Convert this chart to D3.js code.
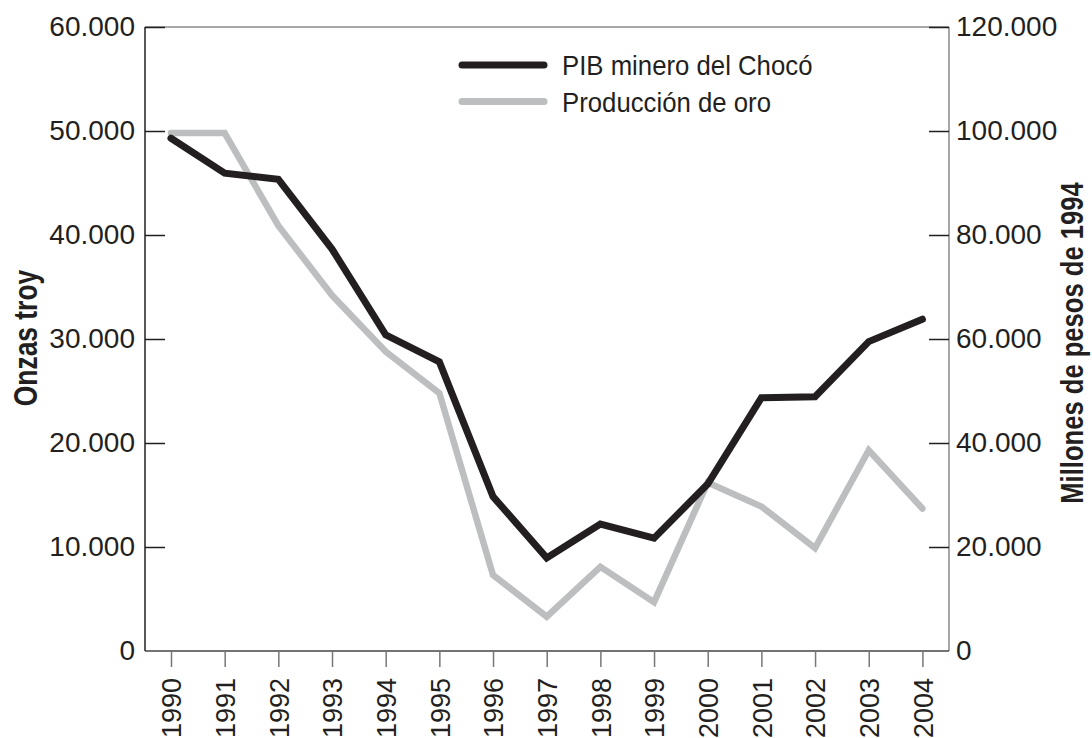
<!DOCTYPE html>
<html>
<head>
<meta charset="utf-8">
<script src="https://cdn.jsdelivr.net/npm/d3@7"></script>
<style>
  body { margin: 0; background: #fff; }
  svg { display: block; }
  .tick text { font-family: "Liberation Sans", Arial, sans-serif; font-size: 28px; fill: #231f20; }
</style>
</head>
<body>
<div id="chart"></div>
<script>
var years = [1990, 1991, 1992, 1993, 1994, 1995, 1996, 1997, 1998, 1999, 2000, 2001, 2002, 2003, 2004];
// PIB minero del Chocó, millones de pesos de 1994 (eje derecho)
var pibMinero = [98600, 91900, 90700, 77300, 60800, 55600, 29700, 17900, 24400, 21700, 32100, 48700, 48900, 59500, 63800];
// Producción de oro, onzas troy (eje izquierdo)
var produccionOro = [49800, 49800, 40900, 34200, 28800, 24800, 7300, 3300, 8100, 4700, 16200, 13900, 9900, 19300, 13700];
var leftTicks = [0, 10000, 20000, 30000, 40000, 50000, 60000];
var rightTicks = [0, 20000, 40000, 60000, 80000, 100000, 120000];
var seriesNames = ["PIB minero del Chocó", "Producción de oro"];

var width = 1092, height = 738;
var plot = {left: 145, right: 949, top: 27, bottom: 651};
var font = "'Liberation Sans', Arial, sans-serif";

var es = d3.formatLocale({decimal: ",", thousands: ".", grouping: [3], currency: ["$", ""]});
var fmt = es.format(",d");

var svg = d3.select("#chart")
            .append("svg")
            .attr("width", width)
            .attr("height", height);

var x = d3.scaleLinear().domain([1990, 2004]).range([171, 922.4]);
var yLeft = d3.scaleLinear().domain([0, 60000]).range([plot.bottom, plot.top]);
var yRight = d3.scaleLinear().domain([0, 120000]).range([plot.bottom, plot.top]);

// frame
svg.append("line").attr("x1", plot.left).attr("x2", plot.right).attr("y1", plot.top).attr("y2", plot.top)
   .attr("stroke", "#8a8a8a").attr("stroke-width", 1.5);
svg.append("line").attr("x1", plot.right).attr("x2", plot.right).attr("y1", plot.top).attr("y2", plot.bottom)
   .attr("stroke", "#8a8a8a").attr("stroke-width", 1.5);
svg.append("line").attr("x1", plot.left).attr("x2", plot.left).attr("y1", plot.top).attr("y2", plot.bottom)
   .attr("stroke", "#231f20").attr("stroke-width", 1.5);
svg.append("line").attr("x1", plot.left).attr("x2", plot.right).attr("y1", plot.bottom).attr("y2", plot.bottom)
   .attr("stroke", "#444").attr("stroke-width", 1.5);

// axes
var gl = svg.append("g")
   .attr("transform", "translate(" + plot.left + ",0)")
   .call(d3.axisLeft(yLeft).tickValues(leftTicks).tickFormat(fmt).tickSize(-20).tickPadding(10));
gl.select(".domain").remove();
gl.selectAll(".tick line").attr("stroke", "#231f20").attr("stroke-width", 1.5);
gl.select(".tick:first-of-type line").remove();

var gr = svg.append("g")
   .attr("transform", "translate(" + plot.right + ",0)")
   .call(d3.axisRight(yRight).tickValues(rightTicks).tickFormat(fmt).tickSize(-20).tickPadding(7));
gr.select(".domain").remove();
gr.selectAll(".tick line").attr("stroke", "#231f20").attr("stroke-width", 1.5);
gr.select(".tick:first-of-type line").remove();

var gb = svg.append("g")
   .attr("transform", "translate(0," + plot.bottom + ")")
   .call(d3.axisBottom(x).tickValues(years).tickFormat(d3.format("d")).tickSize(16).tickSizeOuter(0));
gb.select(".domain").remove();
gb.selectAll(".tick line").attr("stroke", "#777").attr("stroke-width", 1.5);
gb.selectAll(".tick text")
  .style("font-size", "27px")
  .attr("transform", "rotate(-90)")
  .attr("text-anchor", "end")
  .attr("x", -27)
  .attr("y", 0)
  .attr("dy", "0.36em");

// axis titles (condensed bold)
svg.append("text")
   .attr("transform", "translate(37,338) rotate(-90) scale(0.8,1)")
   .attr("text-anchor", "middle")
   .style("font-family", font)
   .style("font-weight", "bold")
   .style("font-size", "33px")
   .style("fill", "#231f20")
   .text("Onzas troy");

svg.append("text")
   .attr("transform", "translate(1083,343) rotate(-90) scale(0.8,1)")
   .attr("text-anchor", "middle")
   .style("font-family", font)
   .style("font-weight", "bold")
   .style("font-size", "32px")
   .style("fill", "#231f20")
   .text("Millones de pesos de 1994");

// lines
var lineRight = d3.line().x(function(d, i) { return x(years[i]); }).y(function(d) { return yRight(d); });
var lineLeft = d3.line().x(function(d, i) { return x(years[i]); }).y(function(d) { return yLeft(d); });

svg.append("path")
   .datum(produccionOro)
   .attr("d", lineLeft)
   .attr("fill", "none")
   .attr("stroke", "#bcbec0")
   .attr("stroke-width", 6.5)
   .attr("stroke-linejoin", "miter")
   .attr("stroke-linecap", "round");

svg.append("path")
   .datum(pibMinero)
   .attr("d", lineRight)
   .attr("fill", "none")
   .attr("stroke", "#231f20")
   .attr("stroke-width", 7)
   .attr("stroke-linejoin", "miter")
   .attr("stroke-linecap", "round");

// legend
var legend = svg.append("g").attr("transform", "translate(462,65)");
var legendColors = ["#231f20", "#bcbec0"];
seriesNames.forEach(function(name, i) {
  var row = legend.append("g").attr("transform", "translate(0," + (i * 36.5) + ")");
  row.append("line").attr("x1", 0).attr("x2", 82).attr("y1", 0).attr("y2", 0)
     .attr("stroke", legendColors[i]).attr("stroke-width", 7).attr("stroke-linecap", "round");
  row.append("text")
     .attr("transform", "translate(100,0) scale(0.92,1)")
     .attr("dy", "0.36em")
     .style("font-family", font)
     .style("font-size", "28px")
     .style("fill", "#231f20")
     .text(name);
});
</script>
</body>
</html>
